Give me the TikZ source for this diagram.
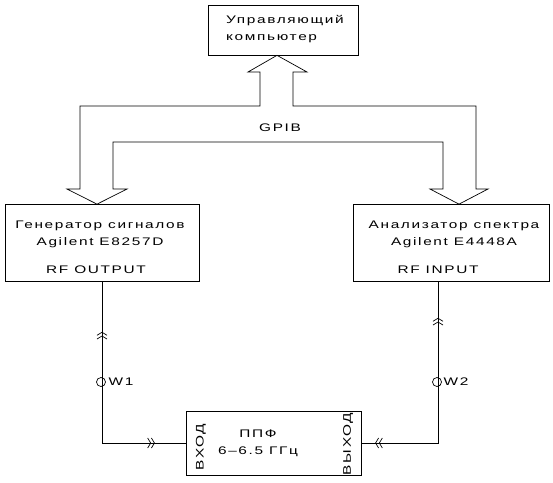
\documentclass[tikz,border=0pt]{standalone}
\usepackage{fontspec}
\setmainfont{Liberation Sans}[FakeStretch=1.4,LetterSpace=15]
\usepackage{tikz}
\usetikzlibrary{
  arrows.meta,
  decorations.markings
}
\tikzset{
  chev/.tip={Straight Barb[length=3pt,width=10pt,line width=0.7pt]Straight Barb[length=3pt,width=10pt,line width=0.7pt]}
}

\begin{document}
\begin{tikzpicture}[x=1pt,y=-1pt,
    box/.style={draw, line width=0.7pt, inner sep=0pt},
    txt/.style={font=\fontsize{11}{17}\selectfont, inner sep=0pt},
    wire/.style={line width=0.7pt}]
  \useasboundingbox (0,0) rectangle (553,482);
  % devices
  \node[box, minimum width=150, minimum height=50] (comp) at (283,30) {};
  \node[txt, align=left] (comptxt) at (285,29) {Управляющий\\компьютер};
  \node[box, minimum width=194, minimum height=77] (gen) at (102,243) {};
  \node[txt, align=center] (gentxt) at (100,234) {Генератор сигналов\\Agilent E8257D};
  \node[txt] (rfout) at (96,270) {RF OUTPUT};
  \node[box, minimum width=196, minimum height=77] (ana) at (451,243) {};
  \node[txt, align=center] (anatxt) at (454,234) {Анализатор спектра\\Agilent E4448A};
  \node[txt] (rfin) at (438,270) {RF INPUT};
  \node[box, minimum width=175, minimum height=64] (filt) at (273.5,443) {};
  \node[txt, align=center] (filttxt) at (258,443) {ППФ\\6--6.5 ГГц};
  \node[txt, rotate=90] (inp) at (201,447) {ВХОД};
  \node[txt, rotate=90] (outp) at (348,444) {ВЫХОД};
  % GPIB bus
  \coordinate (bc) at (277,0 |- comp.south);
  \coordinate (bg) at (97,0 |- gen.north);
  \coordinate (ba) at (459,0 |- ana.north);
  \draw[wire] (bc) -- (307,72) -- (293,72) -- (293,106) -- (476,106) -- (476,189)
    -- (488,189) -- (ba) -- (430,189) -- (443,189) -- (443,142) -- (113,142)
    -- (113,189) -- (127,189) -- (bg) -- (67,189) -- (80,189) -- (80,106)
    -- (260,106) -- (260,72) -- (248,72) -- cycle;
  \node[txt] (gpib) at (280,128) {GPIB};
  % cables
  \draw[wire, postaction={decorate, decoration={markings,
      mark=at position 50pt with {\arrowreversed{chev}},
      mark=at position 214pt with {\arrow{chev}}}}]
    (gen.south) |- (filt.west);
  \draw[wire, postaction={decorate, decoration={markings,
      mark=at position 36pt with {\arrowreversed{chev}},
      mark=at position 224pt with {\arrow{chev}}}}]
    (ana.south -| rfin) |- (filt.east);
  \draw[wire] (101,382) circle[radius=4.5];
  \node[txt] (w1) at (121,382) {W1};
  \draw[wire] (437,382) circle[radius=4.5];
  \node[txt] (w2) at (456,382) {W2};
\end{tikzpicture}
\end{document}
